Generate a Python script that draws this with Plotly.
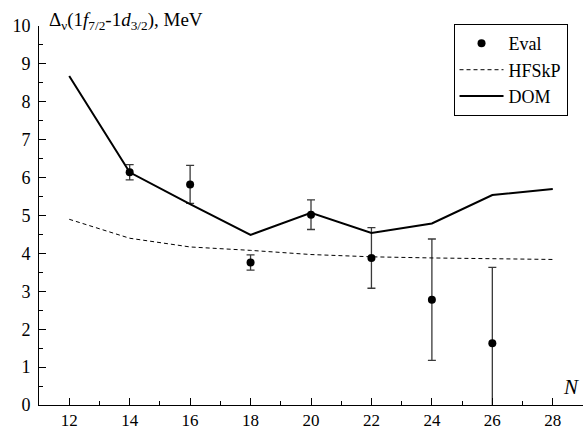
import plotly.graph_objects as go

# Neutron number
N = [12, 14, 16, 18, 20, 22, 24, 26, 28]

# Evaluated gap values with uncertainties
N_eval = [14, 16, 18, 20, 22, 24, 26]
gap_eval = [6.14, 5.82, 3.76, 5.02, 3.88, 2.78, 1.63]
gap_err = [0.20, 0.50, 0.20, 0.39, 0.80, 1.60, 2.00]

# Model curves
gap_hfskp = [4.90, 4.40, 4.17, 4.08, 3.97, 3.91, 3.88, 3.86, 3.84]
gap_dom = [8.68, 6.14, 5.30, 4.49, 5.07, 4.54, 4.79, 5.54, 5.70]

FONT = "Liberation Serif, Times New Roman, serif"

fig = go.Figure()

fig.add_trace(go.Scatter(
    x=N_eval, y=gap_eval, mode="markers", name="Eval",
    marker=dict(color="black", size=8),
    error_y=dict(type="data", array=gap_err, visible=True,
                 color="#3a3a3a", thickness=1.3, width=4),
))
fig.add_trace(go.Scatter(
    x=N, y=gap_hfskp, mode="lines", name="HFSkP",
    line=dict(color="black", width=1, dash="4px,3px"),
))
fig.add_trace(go.Scatter(
    x=N, y=gap_dom, mode="lines", name="DOM",
    line=dict(color="black", width=2),
))

axis_common = dict(
    showline=True, linecolor="black", linewidth=1,
    showgrid=False, zeroline=False, mirror=False, automargin=False,
    ticks="inside", ticklen=7, tickwidth=1, tickcolor="black",
)

fig.update_xaxes(
    range=[11, 29], tickmode="array", tickvals=N, ticklabelstandoff=0,
    tickfont=dict(family=FONT, size=17, color="black"),
    minor=dict(ticks="inside", ticklen=4, dtick=1, tick0=11, tickcolor="black"),
    **axis_common,
)
fig.update_yaxes(
    range=[0, 10], dtick=1, tick0=0, ticklabelstandoff=4,
    tickfont=dict(family=FONT, size=18, color="black"),
    minor=dict(ticks="inside", ticklen=4, dtick=0.5, tickcolor="black"),
    **axis_common,
)

fig.add_annotation(
    xref="paper", yref="paper", x=0, y=1, xanchor="left", yanchor="bottom",
    xshift=8, yshift=-9, showarrow=False,
    text="Δ<sub>ν</sub>(1<i>f</i><sub>7/2</sub>-1<i>d</i><sub>3/2</sub>), MeV",
    font=dict(family=FONT, size=19, color="black"),
)
fig.add_annotation(
    xref="paper", yref="paper", x=1, y=0, xanchor="right", yanchor="bottom",
    xshift=-2, yshift=4, showarrow=False,
    text="<i>N</i>",
    font=dict(family=FONT, size=21, color="black"),
)

fig.update_layout(
    width=584, height=430,
    margin=dict(l=39, r=1, t=26, b=25),
    plot_bgcolor="white", paper_bgcolor="white",
    font=dict(family=FONT, color="black"),
    legend=dict(
        x=0.762, y=1.005, xanchor="left", yanchor="top",
        bordercolor="black", borderwidth=1, bgcolor="white",
        font=dict(family=FONT, size=18, color="black"),
        tracegroupgap=0, itemwidth=44,
    ),
)

fig.write_html("out.html")
